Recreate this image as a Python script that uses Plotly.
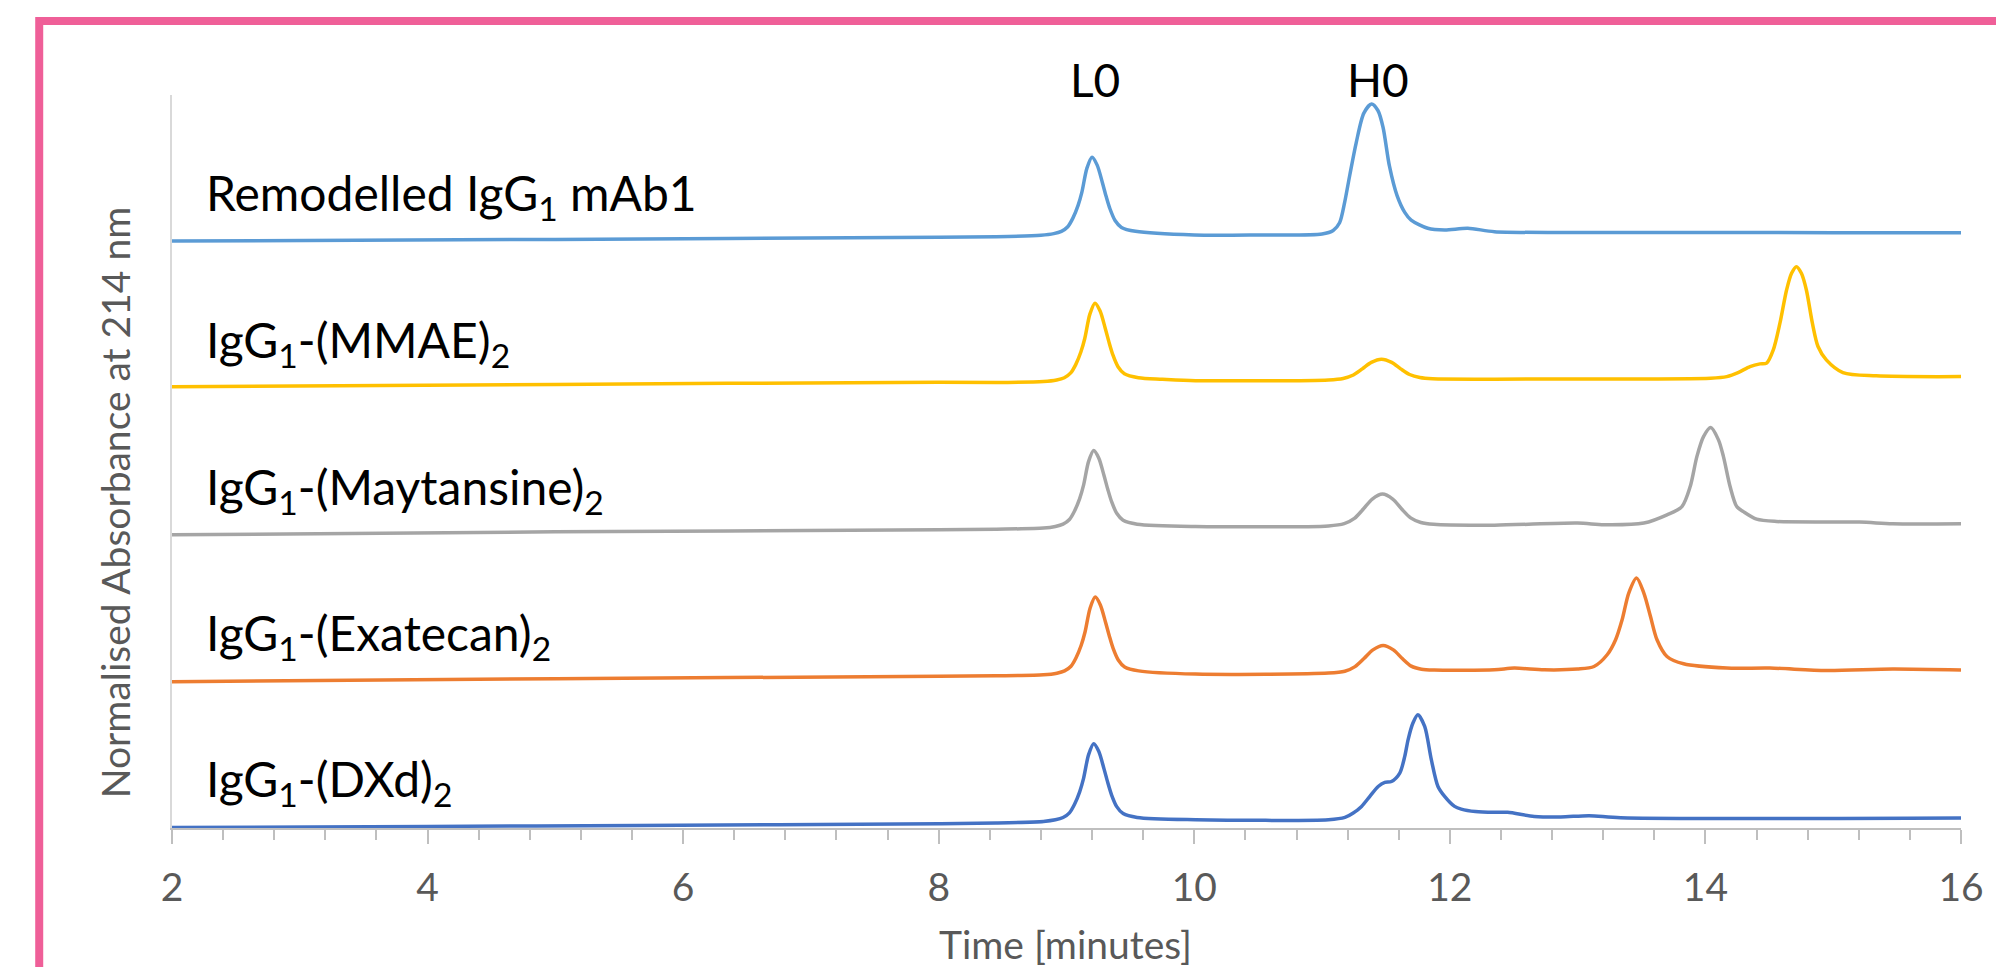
import plotly.graph_objects as go

# ---------------- data ----------------
series_names = [
    "Remodelled IgG<sub>1</sub> mAb1",
    "IgG<sub>1</sub>-(MMAE)<sub>2</sub>",
    "IgG<sub>1</sub>-(Maytansine)<sub>2</sub>",
    "IgG<sub>1</sub>-(Exatecan)<sub>2</sub>",
    "IgG<sub>1</sub>-(DXd)<sub>2</sub>",
]
series_colors = ["#5B9BD5", "#FFC000", "#A5A5A5", "#ED7D31", "#4472C4"]
label_levels = [5.174, 3.967, 2.768, 1.570, 0.375]

time_remodelled = [2.0, 5.0, 8.0, 8.45, 8.80, 8.90, 8.96, 9.01, 9.05, 9.09, 9.12, 9.16, 9.20, 9.24,
                   9.28, 9.31, 9.34, 9.38, 9.43, 9.54, 10.0, 10.5, 11.0, 11.087, 11.137, 11.177,
                   11.217, 11.267, 11.327, 11.387, 11.437, 11.477, 11.527, 11.587, 11.647, 11.697,
                   11.827, 11.959, 12.14, 12.349, 13.0, 14.0, 15.0, 16.0]
abs_remodelled = [4.805, 4.818, 4.835, 4.840, 4.852, 4.865, 4.884, 4.922, 4.992, 5.094, 5.203, 5.401,
                  5.490, 5.426, 5.286, 5.171, 5.069, 4.973, 4.916, 4.884, 4.854, 4.854, 4.862, 4.891,
                  4.954, 5.123, 5.345, 5.609, 5.852, 5.926, 5.873, 5.736, 5.419, 5.176, 5.039, 4.976,
                  4.909, 4.895, 4.909, 4.881, 4.875, 4.875, 4.873, 4.873]

time_mmae = [2.0, 5.0, 8.0, 8.45, 8.82, 8.923, 8.983, 9.033, 9.073, 9.113, 9.143, 9.183, 9.223, 9.263,
             9.303, 9.333, 9.363, 9.403, 9.453, 9.563, 9.75, 10.01, 11.05, 11.165, 11.245, 11.315,
             11.385, 11.465, 11.545, 11.615, 11.685, 11.765, 11.865, 12.35, 13.0, 14.04, 14.167,
             14.26, 14.349, 14.427, 14.479, 14.531, 14.583, 14.635, 14.674, 14.712, 14.751, 14.790,
             14.837, 14.881, 14.946, 15.076, 15.336, 16.0]
abs_mmae = [3.611, 3.631, 3.648, 3.646, 3.654, 3.667, 3.686, 3.725, 3.795, 3.898, 4.007, 4.206, 4.296,
            4.232, 4.091, 3.975, 3.872, 3.776, 3.718, 3.686, 3.674, 3.662, 3.668, 3.680, 3.708, 3.758,
            3.811, 3.837, 3.811, 3.758, 3.712, 3.687, 3.677, 3.674, 3.676, 3.682, 3.695, 3.730, 3.777,
            3.799, 3.805, 3.913, 4.132, 4.404, 4.541, 4.595, 4.541, 4.404, 4.132, 3.941, 3.832, 3.728,
            3.701, 3.695]

time_maytansine = [2.0, 5.0, 8.0, 8.45, 8.82, 8.913, 8.973, 9.023, 9.063, 9.103, 9.133, 9.173, 9.213,
                   9.253, 9.293, 9.323, 9.353, 9.393, 9.443, 9.553, 10.01, 11.05, 11.173, 11.253,
                   11.323, 11.393, 11.473, 11.553, 11.623, 11.693, 11.773, 11.873, 12.35, 13.0,
                   13.206, 13.518, 13.699, 13.816, 13.881, 13.933, 13.985, 14.042, 14.102, 14.141,
                   14.193, 14.245, 14.297, 14.401, 14.557, 15.206, 15.466, 16.0]
abs_maytansine = [2.400, 2.424, 2.441, 2.446, 2.455, 2.468, 2.487, 2.525, 2.595, 2.696, 2.804, 3.001,
                  3.090, 3.027, 2.887, 2.773, 2.671, 2.576, 2.519, 2.487, 2.468, 2.473, 2.491, 2.534,
                  2.611, 2.692, 2.733, 2.692, 2.611, 2.539, 2.501, 2.486, 2.479, 2.496, 2.482, 2.496,
                  2.563, 2.631, 2.795, 3.040, 3.204, 3.278, 3.177, 3.040, 2.795, 2.631, 2.590, 2.528,
                  2.509, 2.504, 2.490, 2.490]

time_exatecan = [2.0, 5.0, 8.0, 8.45, 8.82, 8.925, 8.985, 9.035, 9.075, 9.115, 9.145, 9.185, 9.225,
                 9.265, 9.305, 9.335, 9.365, 9.405, 9.455, 9.565, 10.01, 11.05, 11.178, 11.258,
                 11.328, 11.398, 11.478, 11.558, 11.628, 11.698, 11.778, 11.878, 12.348, 12.504,
                 12.738, 12.998, 13.128, 13.231, 13.297, 13.348, 13.40, 13.461, 13.518, 13.57,
                 13.621, 13.699, 13.829, 14.167, 14.505, 14.946, 15.466, 16.0]
abs_exatecan = [1.197, 1.222, 1.242, 1.246, 1.254, 1.267, 1.286, 1.324, 1.394, 1.496, 1.604, 1.801,
                1.890, 1.826, 1.686, 1.572, 1.470, 1.375, 1.318, 1.286, 1.260, 1.268, 1.283, 1.321,
                1.387, 1.458, 1.494, 1.458, 1.387, 1.325, 1.300, 1.293, 1.295, 1.309, 1.295, 1.301,
                1.322, 1.418, 1.541, 1.704, 1.923, 2.046, 1.923, 1.731, 1.541, 1.404, 1.344, 1.309,
                1.309, 1.290, 1.301, 1.293]

time_dxd = [2.0, 4.0, 5.646, 8.0, 8.45, 8.82, 8.913, 8.973, 9.023, 9.063, 9.103, 9.133, 9.173, 9.213,
            9.253, 9.293, 9.323, 9.353, 9.393, 9.443, 9.553, 10.01, 11.05, 11.179, 11.244, 11.309,
            11.374, 11.439, 11.491, 11.543, 11.608, 11.647, 11.673, 11.711, 11.75, 11.803, 11.855,
            11.907, 11.959, 12.037, 12.089, 12.20, 12.348, 12.452, 12.66, 12.868, 13.089, 13.336, 16.0]
abs_dxd = [0.004, 0.013, 0.021, 0.035, 0.041, 0.054, 0.067, 0.086, 0.124, 0.194, 0.296, 0.404, 0.601,
           0.690, 0.626, 0.486, 0.372, 0.270, 0.175, 0.118, 0.086, 0.068, 0.068, 0.087, 0.123, 0.177,
           0.259, 0.340, 0.373, 0.381, 0.450, 0.586, 0.722, 0.859, 0.927, 0.831, 0.559, 0.340, 0.259,
           0.177, 0.155, 0.135, 0.128, 0.128, 0.095, 0.090, 0.101, 0.084, 0.082]

peak_labels = ["L0", "H0"]
peak_label_times = [9.224, 11.434]

x_ticks = [2, 4, 6, 8, 10, 12, 14, 16]
x_title = "Time [minutes]"
y_title = "Normalised Absorbance at 214 nm"

# ---------------- layout geometry (pixels) ----------------
W, H = 1996, 967
PL, PR, PT, PB = 172, 1968, 95, 828
FONT = "Lato, 'Open Sans', sans-serif"


def px_to_paper_x(px):
    return (px - PL) / (PR - PL)


def px_to_paper_y(py):
    return (PB - py) / (PB - PT)


times = [time_remodelled, time_mmae, time_maytansine, time_exatecan, time_dxd]
values = [abs_remodelled, abs_mmae, abs_maytansine, abs_exatecan, abs_dxd]

fig = go.Figure()
for t, v, c, n in zip(times, values, series_colors, series_names):
    fig.add_trace(go.Scatter(
        x=t, y=v, mode="lines", name=n,
        line=dict(color=c, width=3.5, shape="spline", smoothing=0.8),
        showlegend=False, hoverinfo="skip",
    ))

annotations = []
for n, lv in zip(series_names, label_levels):
    annotations.append(dict(
        x=2.247, y=lv, xref="x", yref="y", text=n, showarrow=False,
        xanchor="left", yanchor="middle",
        font=dict(family=FONT, size=48, color="#000000"),
    ))
for lab, tt in zip(peak_labels, peak_label_times):
    annotations.append(dict(
        x=tt, y=px_to_paper_y(80), xref="x", yref="paper", text=lab, showarrow=False,
        xanchor="center", yanchor="middle",
        font=dict(family=FONT, size=46, color="#000000"),
    ))
annotations.append(dict(
    x=px_to_paper_x(1069), y=px_to_paper_y(944), xref="paper", yref="paper",
    text=x_title, showarrow=False, xanchor="center", yanchor="middle",
    font=dict(family=FONT, size=39, color="#595959"),
))
annotations.append(dict(
    x=px_to_paper_x(115), y=px_to_paper_y(503), xref="paper", yref="paper",
    text=y_title, showarrow=False, textangle=-90, xanchor="center", yanchor="middle",
    font=dict(family=FONT, size=39, color="#595959"),
))

shapes = [dict(
    type="rect", xref="paper", yref="paper",
    x0=px_to_paper_x(38.7), x1=px_to_paper_x(2030),
    y0=px_to_paper_y(1000), y1=px_to_paper_y(21),
    line=dict(color="#EF5F98", width=8), fillcolor="rgba(0,0,0,0)", layer="above",
)]

fig.update_layout(
    width=W, height=H,
    margin=dict(l=PL, r=W - PR, t=PT, b=H - PB, pad=0),
    paper_bgcolor="white", plot_bgcolor="white",
    annotations=annotations, shapes=shapes,
    showlegend=False,
)
fig.update_xaxes(
    range=[2, 16], tickvals=x_ticks, ticktext=[str(v) for v in x_ticks],
    ticks="outside", ticklen=14, tickwidth=1.5, tickcolor="#BFBFBF",
    ticklabelstandoff=10,
    showline=True, linecolor="#BFBFBF", linewidth=1.5,
    showgrid=False, zeroline=False,
    tickfont=dict(family=FONT, size=39, color="#595959"),
    minor=dict(dtick=0.4, tick0=2, ticks="outside", ticklen=10, tickwidth=1.5,
               tickcolor="#BFBFBF", showgrid=False),
)
fig.update_yaxes(
    range=[0, 6], showline=True, linecolor="#D9D9D9", linewidth=1.5,
    showticklabels=False, ticks="", showgrid=False, zeroline=False,
)

fig.write_html("out.html")
